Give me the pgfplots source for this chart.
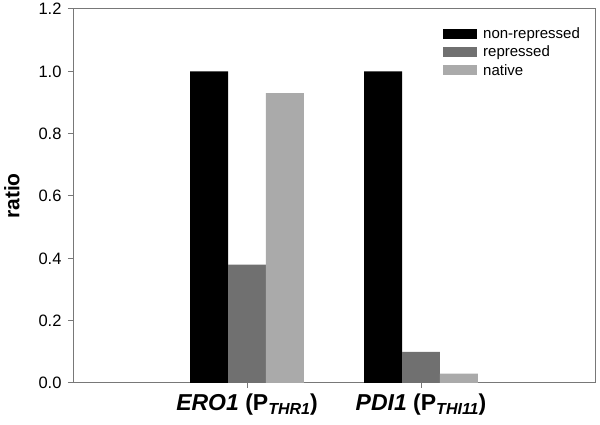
\documentclass[border=0pt]{standalone}
\usepackage{pgfplots}
\pgfplotsset{compat=1.18}
\usepackage{fontspec}
\setmainfont{Liberation Sans}
\definecolor{cblack}{RGB}{0,0,0}
\definecolor{cmid}{RGB}{112,112,112}
\definecolor{clight}{RGB}{170,170,170}
\definecolor{axgray}{RGB}{120,120,120}
\newcommand{\cat}[2]{\fontsize{23}{27}\selectfont\bfseries\textit{#1} (P\raisebox{-0.35ex}{\fontsize{16}{16}\selectfont\textit{#2}})}
\begin{document}
\begin{tikzpicture}
\useasboundingbox (0,0) rectangle (600pt,425pt);
\begin{axis}[
  at={(73pt,42pt)}, anchor=south west,
  scale only axis, width=522pt, height=374pt,
  xmin=-1, xmax=2, ymin=0, ymax=1.2,
  ybar=0pt, bar width=0.218,
  xtick={0,1}, xticklabels={\cat{ERO1}{THR1},\cat{PDI1}{THI11}},
  ytick={0,0.2,0.4,0.6,0.8,1.0,1.2},
  yticklabel style={/pgf/number format/fixed,/pgf/number format/fixed zerofill,/pgf/number format/precision=1, xshift=-3pt},
  /pgf/number format/assume math mode=true,
  tick label style={font=\fontsize{16.5}{19}\selectfont},
  xticklabel style={yshift=-2pt},
  tick align=outside, xtick pos=bottom, ytick pos=left,
  major tick length=5pt,
  axis line style={axgray, line width=1pt},
  every tick/.style={axgray, line width=1pt},
  ylabel={\textbf{ratio}}, ylabel style={font=\fontsize{21}{24}\selectfont, at={(ticklabel cs:0.5)}, yshift=12pt},
  legend style={draw=none, fill=none, at={(0.703,0.962)}, anchor=north west, font=\fontsize{15}{17}\selectfont, row sep=2pt},
  legend image code/.code={\fill[#1] (0pt,-5pt) rectangle (34pt,5pt); \path (38pt,0pt);},
  legend cell align=left,
]
\addplot[fill=cblack, draw=none] coordinates {(0,1.0) (1,1.0)};
\addplot[fill=cmid, draw=none] coordinates {(0,0.38) (1,0.10)};
\addplot[fill=clight, draw=none] coordinates {(0,0.93) (1,0.03)};
\legend{non-repressed,repressed,native}
\end{axis}
\end{tikzpicture}
\end{document}
